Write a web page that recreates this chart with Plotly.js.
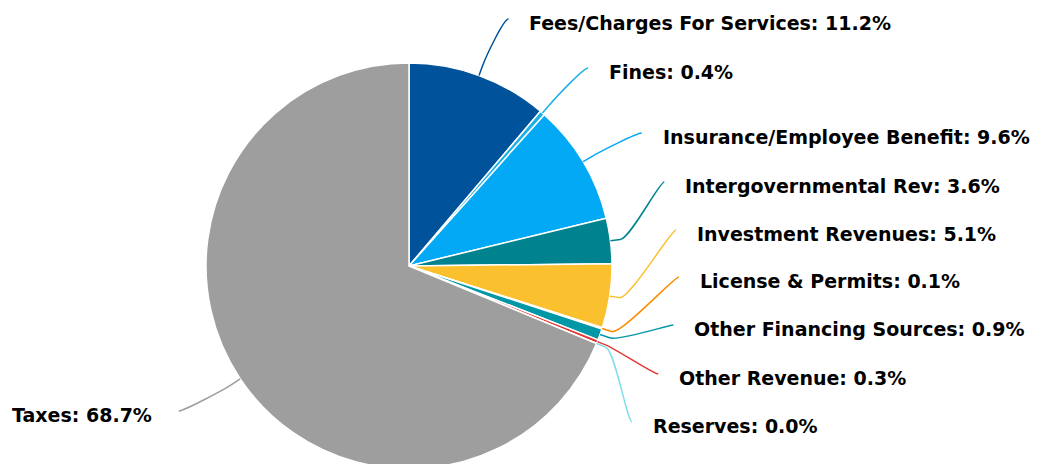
<!DOCTYPE html>
<html><head><meta charset="utf-8">
<script src="https://cdn.plot.ly/plotly-3.0.1.min.js"></script>
<style>html,body{margin:0;padding:0;overflow:hidden;background:#fff}#chart{width:1039px;height:480px}</style>
</head><body><div id="chart"></div>
<script>
// ---- data ----
const categories = ["Fees/Charges For Services","Fines","Insurance/Employee Benefit","Intergovernmental Rev","Investment Revenues","License & Permits","Other Financing Sources","Other Revenue","Reserves","Taxes"];
const shares = [11.2, 0.4, 9.6, 3.6, 5.1, 0.1, 0.9, 0.3, 0.02, 68.7];
const sliceColors = ["#00529B","#1DB0E6","#03A9F4","#00838F","#FBC02D","#FB8C00","#0097A7","#E53935","#80DEEA","#9E9E9E"];
// ---- label layout (pixel y of each label's text centre, after de-overlapping) ----
const labelTextY = [23, 72, 137, 186, 234, 281, 329, 378, 426, 415];

const W = 1039, H = 480;
const CX = 409, CY = 266, R = 203, LABEL_R = 270, LABEL_CY = 274, BREAK = 10;
const px = x => x / W, py = y => 1 - y / H;

const total = shares.reduce((a, b) => a + b, 0);
let cum = 0;
const shapes = [], annotations = [];
shares.forEach((v, i) => {
  const th = 2 * Math.PI * (cum + v / 2) / total;
  cum += v;
  const sx = Math.sin(th), sy = -Math.cos(th);
  const left = sx < 0;
  const touch = [CX + R * sx, CY + R * sy];
  const brk = [CX + (R + BREAK) * sx, CY + (R + BREAK) * sy];
  const ty = labelTextY[i];
  const dy = ty - LABEL_CY;
  const dx = Math.sqrt(Math.max(0, LABEL_R * LABEL_R - dy * dy));
  const endX = left ? CX - dx : CX + dx;
  const endY = ty - 4;
  const c1 = [endX + (left ? 5 : -5), endY];
  const c2 = [2 * brk[0] - touch[0], 2 * brk[1] - touch[1]];
  const path = `M${px(endX)},${py(endY)} C${px(c1[0])},${py(c1[1])} ${px(c2[0])},${py(c2[1])} ${px(brk[0])},${py(brk[1])} L${px(touch[0])},${py(touch[1])}`;
  shapes.push({type: 'path', xref: 'paper', yref: 'paper', path: path, line: {color: sliceColors[i], width: 1.5}, layer: 'above'});
  annotations.push({
    xref: 'paper', yref: 'paper', showarrow: false,
    x: px(left ? endX - 25 : endX + 19), y: py(ty),
    xanchor: left ? 'right' : 'left', yanchor: 'middle',
    text: categories[i] + ': ' + v.toFixed(1) + '%',
    font: {family: 'DejaVu Sans', size: 19, color: '#000', weight: 'bold'}
  });
});

const trace = {
  type: 'pie', labels: categories, values: shares, sort: false,
  direction: 'clockwise', rotation: 0, textinfo: 'none', hoverinfo: 'label+percent',
  marker: {colors: sliceColors, line: {color: '#fff', width: 1.5}},
  domain: {x: [px(CX - R), px(CX + R)], y: [py(CY + R), py(CY - R)]},
  showlegend: false
};
Plotly.newPlot('chart', [trace], {
  width: W, height: H, margin: {l: 0, r: 0, t: 0, b: 0},
  paper_bgcolor: '#fff', showlegend: false, shapes: shapes, annotations: annotations
}, {displayModeBar: false, staticPlot: true});
</script></body></html>
